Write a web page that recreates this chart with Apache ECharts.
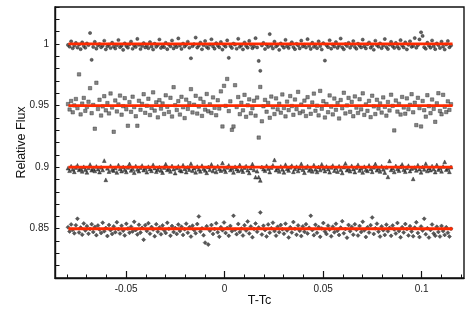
<!DOCTYPE html>
<html>
<head>
<meta charset="utf-8">
<script src="https://cdn.jsdelivr.net/npm/echarts@6/dist/echarts.min.js"></script>
<style>html,body{margin:0;padding:0;background:#fff}#c{width:472px;height:334px}</style>
</head>
<body>
<div id="c"></div>
<script>
// Time relative to mid-transit (T - Tc), shared by all four light curves
const times = [
-0.0795,-0.0787,-0.0779,-0.0771,-0.0763,-0.0755,-0.0747,-0.0739,-0.0731,-0.0723,
-0.0715,-0.0707,-0.0699,-0.0691,-0.0683,-0.0675,-0.0667,-0.0659,-0.0651,-0.0643,
-0.0635,-0.0627,-0.0619,-0.0611,-0.0603,-0.0595,-0.0587,-0.0579,-0.0571,-0.0563,
-0.0555,-0.0547,-0.0539,-0.0531,-0.0523,-0.0515,-0.0507,-0.0499,-0.0491,-0.0483,
-0.0475,-0.0467,-0.0459,-0.0451,-0.0443,-0.0435,-0.0427,-0.0419,-0.0411,-0.0403,
-0.0395,-0.0387,-0.0379,-0.0371,-0.0363,-0.0355,-0.0347,-0.0339,-0.0331,-0.0323,
-0.0315,-0.0307,-0.0299,-0.0291,-0.0283,-0.0275,-0.0267,-0.0259,-0.0251,-0.0243,
-0.0235,-0.0227,-0.0219,-0.0211,-0.0203,-0.0195,-0.0187,-0.0179,-0.0171,-0.0163,
-0.0155,-0.0147,-0.0139,-0.0131,-0.0123,-0.0115,-0.0107,-0.0099,-0.0091,-0.0083,
-0.0075,-0.0067,-0.0059,-0.0051,-0.0043,-0.0035,-0.0027,-0.0019,-0.0011,-0.0003,
0.0005,0.0013,0.0021,0.0029,0.0037,0.0045,0.0053,0.0061,0.0069,0.0077,
0.0085,0.0093,0.0101,0.0109,0.0117,0.0125,0.0133,0.0141,0.0149,0.0157,
0.0165,0.0173,0.0181,0.0189,0.0197,0.0205,0.0213,0.0221,0.0229,0.0237,
0.0245,0.0253,0.0261,0.0269,0.0277,0.0285,0.0293,0.0301,0.0309,0.0317,
0.0325,0.0333,0.0341,0.0349,0.0357,0.0365,0.0373,0.0381,0.0389,0.0397,
0.0405,0.0413,0.0421,0.0429,0.0437,0.0445,0.0453,0.0461,0.0469,0.0477,
0.0485,0.0493,0.0501,0.0509,0.0517,0.0525,0.0533,0.0541,0.0549,0.0557,
0.0565,0.0573,0.0581,0.0589,0.0597,0.0605,0.0613,0.0621,0.0629,0.0637,
0.0645,0.0653,0.0661,0.0669,0.0677,0.0685,0.0693,0.0701,0.0709,0.0717,
0.0725,0.0733,0.0741,0.0749,0.0757,0.0765,0.0773,0.0781,0.0789,0.0797,
0.0805,0.0813,0.0821,0.0829,0.0837,0.0845,0.0853,0.0861,0.0869,0.0877,
0.0885,0.0893,0.0901,0.0909,0.0917,0.0925,0.0933,0.0941,0.0949,0.0957,
0.0965,0.0973,0.0981,0.0989,0.0997,0.1005,0.1013,0.1021,0.1029,0.1037,
0.1045,0.1053,0.1061,0.1069,0.1077,0.1085,0.1093,0.1101,0.1109,0.1117,
0.1125,0.1133,0.1141,0.1149
];

// Light curve around 1.00 (circles)
const fluxCircles = [
0.9992,0.9978,1.0021,0.9965,0.9987,1.0008,0.9971,0.9995,0.9958,1.0013,
0.9983,0.9969,1.0004,0.9991,1.0089,0.9871,0.9976,1.0017,0.9962,0.9988,
0.9999,0.9973,0.9985,1.0026,0.9956,0.9981,0.9994,0.9967,1.0010,0.9979,
0.9963,0.9990,1.0032,0.9974,0.9986,0.9952,1.0005,0.9983,0.9970,0.9997,
1.0019,0.9961,0.9988,0.9976,1.0041,0.9993,0.9959,0.9984,1.0007,0.9972,
0.9989,0.9966,1.0015,0.9980,0.9955,1.0002,0.9977,0.9992,1.0036,0.9968,
0.9985,0.9974,1.0009,0.9958,0.9996,0.9981,1.0028,0.9964,0.9990,0.9975,
1.0045,0.9987,0.9960,1.0003,0.9979,0.9993,1.0018,0.9969,0.9884,0.9982,
0.9998,1.0052,0.9971,0.9986,1.0011,0.9957,0.9990,1.0024,0.9976,0.9965,
0.9994,1.0038,0.9980,0.9962,1.0006,0.9987,0.9973,1.0016,0.9954,0.9991,
0.9978,1.0029,0.9887,0.9983,0.9968,1.0003,0.9995,0.9961,1.0042,0.9977,
0.9989,0.9956,1.0012,0.9984,0.9970,1.0025,0.9993,0.9966,0.9981,1.0047,
0.9972,0.9862,0.9782,0.9988,1.0008,0.9959,0.9994,0.9976,1.0080,0.9985,
0.9963,1.0019,0.9979,0.9991,0.9952,1.0004,0.9986,0.9970,1.0033,0.9982,
0.9967,0.9996,1.0014,0.9975,0.9958,1.0001,0.9988,0.9964,1.0027,0.9980,
0.9993,0.9971,1.0039,0.9985,0.9960,1.0010,0.9977,0.9992,0.9966,1.0021,
0.9983,0.9955,1.0006,0.9865,0.9989,0.9974,1.0030,0.9962,0.9995,0.9979,
1.0015,0.9968,0.9987,1.0044,0.9973,0.9957,0.9998,0.9984,1.0009,0.9969,
0.9991,1.0023,0.9976,0.9961,1.0002,0.9986,0.9972,1.0035,0.9981,0.9964,
0.9997,1.0012,0.9970,0.9985,0.9953,1.0026,0.9990,0.9978,1.0005,0.9966,
0.9988,1.0040,0.9975,0.9959,0.9994,1.0017,0.9982,0.9968,1.0008,0.9979,
0.9963,1.0031,0.9987,0.9972,1.0013,0.9956,0.9993,1.0022,0.9977,0.9984,
1.0048,0.9969,0.9990,1.0037,1.0095,1.0065,0.9974,0.9961,1.0010,0.9986,
0.9970,1.0028,0.9982,0.9958,1.0004,0.9991,0.9967,1.0019,0.9979,0.9955,
0.9996,1.0024,0.9973,0.9988
];

// Light curve around 0.95 (squares)
const fluxSquares = [
0.9512,0.9468,0.9537,0.9445,0.9501,0.9553,0.9479,0.9753,0.9428,0.9516,
0.9562,0.9457,0.9489,0.9531,0.9641,0.9438,0.9505,0.9312,0.9685,0.9472,
0.9547,0.9419,0.9493,0.9576,0.9461,0.9520,0.9436,0.9598,0.9484,0.9287,
0.9541,0.9452,0.9509,0.9581,0.9426,0.9495,0.9560,0.9470,0.9336,0.9528,
0.9449,0.9572,0.9487,0.9413,0.9336,0.9539,0.9466,0.9514,0.9592,0.9441,
0.9498,0.9555,0.9423,0.9481,0.9607,0.9459,0.9526,0.9404,0.9544,0.9475,
0.9517,0.9432,0.9583,0.9490,0.9448,0.9563,0.9411,0.9649,0.9503,0.9464,
0.9536,0.9427,0.9571,0.9486,0.9398,0.9548,0.9473,0.9519,0.9633,0.9444,
0.9507,0.9579,0.9435,0.9492,0.9556,0.9416,0.9528,0.9467,0.9594,0.9453,
0.9510,0.9440,0.9566,0.9482,0.9421,0.9543,0.9476,0.9615,0.9330,0.9660,
0.9497,0.9716,0.9455,0.9534,0.9303,0.9330,0.9665,0.9488,0.9569,0.9430,
0.9523,0.9461,0.9587,0.9409,0.9502,0.9550,0.9437,0.9478,0.9539,0.9418,
0.9565,0.9240,0.9651,0.9372,0.9494,0.9546,0.9450,0.9521,0.9401,0.9573,
0.9486,0.9431,0.9558,0.9469,0.9515,0.9442,0.9590,0.9480,0.9412,0.9532,
0.9463,0.9577,0.9496,0.9425,0.9549,0.9471,0.9611,0.9439,0.9508,0.9452,
0.9540,0.9415,0.9568,0.9487,0.9433,0.9525,0.9597,0.9458,0.9499,0.9420,
0.9619,0.9474,0.9535,0.9403,0.9512,0.9446,0.9582,0.9491,0.9428,0.9557,
0.9466,0.9520,0.9395,0.9545,0.9478,0.9604,0.9436,0.9501,0.9562,0.9449,
0.9530,0.9413,0.9574,0.9483,0.9440,0.9551,0.9469,0.9599,0.9424,0.9509,
0.9457,0.9538,0.9406,0.9580,0.9493,0.9431,0.9547,0.9476,0.9517,0.9443,
0.9566,0.9489,0.9418,0.9529,0.9460,0.9588,0.9497,0.9298,0.9541,0.9451,
0.9514,0.9427,0.9570,0.9484,0.9434,0.9558,0.9470,0.9506,0.9592,0.9445,
0.9523,0.9341,0.9563,0.9479,0.9330,0.9537,0.9462,0.9410,0.9584,0.9495,
0.9438,0.9549,0.9473,0.9368,0.9518,0.9600,0.9456,0.9429,0.9587,0.9490,
0.9447,0.9534,0.9465,0.9511
];

// Light curve around 0.90 (triangles)
const fluxTriangles = [
0.8992,0.8971,0.9008,0.8983,0.8962,0.8997,0.9015,0.8978,0.8989,0.8966,
0.9003,0.8981,0.8958,0.8994,0.9021,0.8975,0.8987,0.8969,0.9006,0.8984,
0.8960,0.8999,0.8977,0.9053,0.8897,0.8991,0.8964,0.9011,0.8980,0.8972,
0.8995,0.8957,0.9017,0.8986,0.8968,0.9002,0.8979,0.8961,0.8998,0.9026,
0.8974,0.8988,0.8955,0.9009,0.8982,0.8967,0.8996,0.9013,0.8976,0.8990,
0.8959,0.9004,0.8985,0.8970,0.9019,0.8993,0.8963,0.8981,0.9000,0.8973,
0.8956,0.8997,0.9024,0.8978,0.8989,0.8965,0.9010,0.8984,0.8952,0.8994,
0.9007,0.8976,0.8968,0.9016,0.8987,0.8960,0.8999,0.8980,0.9028,0.8971,
0.8992,0.8958,0.9005,0.8983,0.8966,0.9012,0.8988,0.8974,0.8954,0.9001,
0.8979,0.9022,0.8969,0.8995,0.8961,0.9008,0.8986,0.8972,0.9034,0.8982,
0.8963,0.8998,0.9014,0.8977,0.8990,0.8957,0.9003,0.8985,0.8970,0.9018,
0.8981,0.8964,0.8996,0.9009,0.8975,0.8953,0.8993,0.9025,0.8978,0.8919,
0.8967,0.8919,0.8892,0.9002,0.8984,0.8971,0.9011,0.8989,0.8960,0.8997,
0.9015,0.9059,0.8976,0.8991,0.8965,0.9006,0.8982,0.8958,0.9020,0.8987,
0.8973,0.8999,0.9012,0.8962,0.8986,0.9004,0.8969,0.8993,0.9027,0.8980,
0.8955,0.8996,0.9009,0.8974,0.8988,0.8966,0.9017,0.8983,0.8961,0.9001,
0.8977,0.9023,0.8990,0.8968,0.9005,0.8984,0.8959,0.8998,0.9013,0.8972,
0.8994,0.8964,0.9008,0.8981,0.8953,0.9000,0.9030,0.8976,0.8989,0.8967,
0.9011,0.8985,0.8960,0.8997,0.9019,0.8973,0.8991,0.8957,0.9004,0.8980,
0.8970,0.9014,0.8987,0.8962,0.8999,0.9026,0.8975,0.8990,0.8965,0.9007,
0.8983,0.8956,0.8998,0.8921,0.9051,0.8978,0.8992,0.8961,0.9010,0.8986,
0.8971,0.9003,0.9022,0.8979,0.8963,0.8995,0.9012,0.8968,0.8988,0.8905,
0.8997,0.8974,0.9016,0.8984,0.8958,0.9002,0.8982,0.9028,0.8969,0.8993,
0.8976,0.9009,0.8986,0.8960,0.9018,0.8981,0.8994,0.8966,0.9006,0.9043,
0.8979,0.8990,0.8962,0.9001
];

// Light curve around 0.85 (diamonds)
const fluxDiamonds = [
0.8512,0.8478,0.8535,0.8491,0.8463,0.8528,0.8581,0.8470,0.8509,0.8452,
0.8543,0.8486,0.8521,0.8459,0.8498,0.8537,0.8474,0.8515,0.8448,0.8526,
0.8493,0.8465,0.8549,0.8480,0.8506,0.8441,0.8531,0.8488,0.8457,0.8519,
0.8472,0.8553,0.8496,0.8461,0.8524,0.8484,0.8446,0.8540,0.8501,0.8467,
0.8517,0.8478,0.8556,0.8490,0.8454,0.8532,0.8469,0.8507,0.8411,0.8529,
0.8482,0.8545,0.8460,0.8514,0.8493,0.8439,0.8536,0.8476,0.8510,0.8455,
0.8527,0.8487,0.8466,0.8548,0.8499,0.8443,0.8522,0.8473,0.8505,0.8458,
0.8534,0.8481,0.8516,0.8450,0.8495,0.8541,0.8468,0.8511,0.8436,0.8525,
0.8489,0.8463,0.8538,0.8600,0.8477,0.8503,0.8447,0.8387,0.8520,0.8371,
0.8484,0.8530,0.8458,0.8497,0.8544,0.8471,0.8435,0.8513,0.8488,0.8551,
0.8466,0.8506,0.8442,0.8523,0.8480,0.8605,0.8492,0.8456,0.8539,0.8474,
0.8501,0.8445,0.8528,0.8485,0.8559,0.8462,0.8518,0.8431,0.8497,0.8542,
0.8476,0.8510,0.8632,0.8453,0.8524,0.8490,0.8437,0.8535,0.8468,0.8504,
0.8549,0.8481,0.8444,0.8516,0.8472,0.8530,0.8495,0.8459,0.8541,0.8486,
0.8429,0.8512,0.8470,0.8554,0.8499,0.8451,0.8527,0.8483,0.8440,0.8519,
0.8475,0.8537,0.8462,0.8508,0.8605,0.8489,0.8448,0.8532,0.8467,0.8514,
0.8434,0.8502,0.8546,0.8478,0.8457,0.8525,0.8493,0.8438,0.8517,0.8471,
0.8540,0.8484,0.8449,0.8509,0.8561,0.8463,0.8498,0.8427,0.8531,0.8480,
0.8515,0.8452,0.8536,0.8491,0.8445,0.8522,0.8473,0.8557,0.8487,0.8433,
0.8511,0.8469,0.8529,0.8591,0.8458,0.8503,0.8541,0.8476,0.8436,0.8519,
0.8488,0.8450,0.8533,0.8479,0.8507,0.8442,0.8526,0.8494,0.8461,0.8547,
0.8482,0.8430,0.8513,0.8470,0.8538,0.8497,0.8446,0.8521,0.8477,0.8439,
0.8509,0.8552,0.8466,0.8432,0.8518,0.8485,0.8581,0.8455,0.8504,0.8428,
0.8490,0.8534,0.8462,0.8444,0.8516,0.8474,0.8437,0.8523,0.8481,0.8450,
0.8512,0.8468,0.8436,0.8499
];

// Flat model fits (red lines)
const modelLevels = [1.0, 0.95, 0.90, 0.85];
const modelSpan = [-0.0793, 0.1157];

// Axis ticks
const xTickLabels = [-0.05, 0, 0.05, 0.1];
const xMinorTicks = [-0.08,-0.07,-0.06,-0.05,-0.04,-0.03,-0.02,-0.01,0,0.01,0.02,0.03,0.04,0.05,0.06,0.07,0.08,0.09,0.1,0.11,0.12];
const yTickLabels = [0.85, 0.9, 0.95, 1];

const chart = echarts.init(document.getElementById('c'), null, {renderer: 'canvas'});
const pair = arr => times.map((t, i) => [t, arr[i]]);
const font = 'Liberation Sans, Arial, Helvetica, sans-serif';

const markerDefs = [
  {data: fluxCircles, symbol: 'circle', size: 3.2, fill: '#3a3a3a', stroke: '#1e1e1e'},
  {data: fluxSquares, symbol: 'rect', size: 3.4, fill: '#666666', stroke: '#262626'},
  {data: fluxTriangles, symbol: 'triangle', size: 3.8, fill: '#2e2e2e', stroke: '#1a1a1a'},
  {data: fluxDiamonds, symbol: 'diamond', size: 4, fill: '#2e2e2e', stroke: '#1a1a1a'}
];

const series = markerDefs.map(m => ({
  type: 'scatter', xAxisIndex: 0, yAxisIndex: 0,
  data: pair(m.data), symbol: m.symbol, symbolSize: m.size,
  itemStyle: {color: m.fill, borderColor: m.stroke, borderWidth: 0.5},
  silent: true, z: 2
}));
modelLevels.forEach(lv => {
  series.push({
    type: 'line', xAxisIndex: 0, yAxisIndex: 0,
    data: modelSpan.map(t => [t, lv]), symbol: 'none',
    lineStyle: {color: '#ff2a00', width: 2.8}, silent: true, z: 5
  });
});

chart.setOption({
  animation: false,
  backgroundColor: '#fff',
  grid: {left: 55, top: 7, width: 409, height: 271, show: true, borderColor: '#111', borderWidth: 1.4, backgroundColor: 'transparent'},
  xAxis: [
    {
      type: 'value', min: -0.0861, max: 0.1215, position: 'bottom',
      name: 'T-Tc', nameLocation: 'middle', nameGap: 16, nameMoveOverlap: false,
      nameTextStyle: {fontFamily: font, fontSize: 12.5, color: '#111'},
      axisLine: {show: true, onZero: false, lineStyle: {color: '#111', width: 1.4}},
      axisTick: {show: true, inside: true, length: 7, customValues: xTickLabels, lineStyle: {color: '#111', width: 1.2}},
      axisLabel: {customValues: xTickLabels, margin: 6, fontFamily: font, fontSize: 10, color: '#222', formatter: v => String(v)},
      splitLine: {show: false}
    },
    {
      type: 'value', min: -0.0861, max: 0.1215, position: 'bottom',
      axisLine: {show: false, onZero: false},
      axisTick: {show: true, inside: true, length: 3.5, customValues: xMinorTicks, lineStyle: {color: '#111', width: 1}},
      axisLabel: {show: false},
      splitLine: {show: false}
    }
  ],
  yAxis: [
    {
      type: 'value', min: 0.81, max: 1.03, interval: 0.01, position: 'left',
      name: 'Relative Flux', nameLocation: 'middle', nameGap: 27, nameRotate: 90, nameMoveOverlap: false,
      nameTextStyle: {fontFamily: font, fontSize: 12.5, color: '#111'},
      axisLine: {show: true, onZero: false, lineStyle: {color: '#111', width: 1.4}},
      axisTick: {show: true, inside: true, length: 4.5, lineStyle: {color: '#111', width: 1}},
      axisLabel: {interval: 0, margin: 6, fontFamily: font, fontSize: 10, color: '#222',
        formatter: v => yTickLabels.some(t => Math.abs(t - v) < 1e-6) ? String(+v.toFixed(2)) : ''},
      splitLine: {show: false}
    }
  ],
  series: series
});
</script>
</body>
</html>
